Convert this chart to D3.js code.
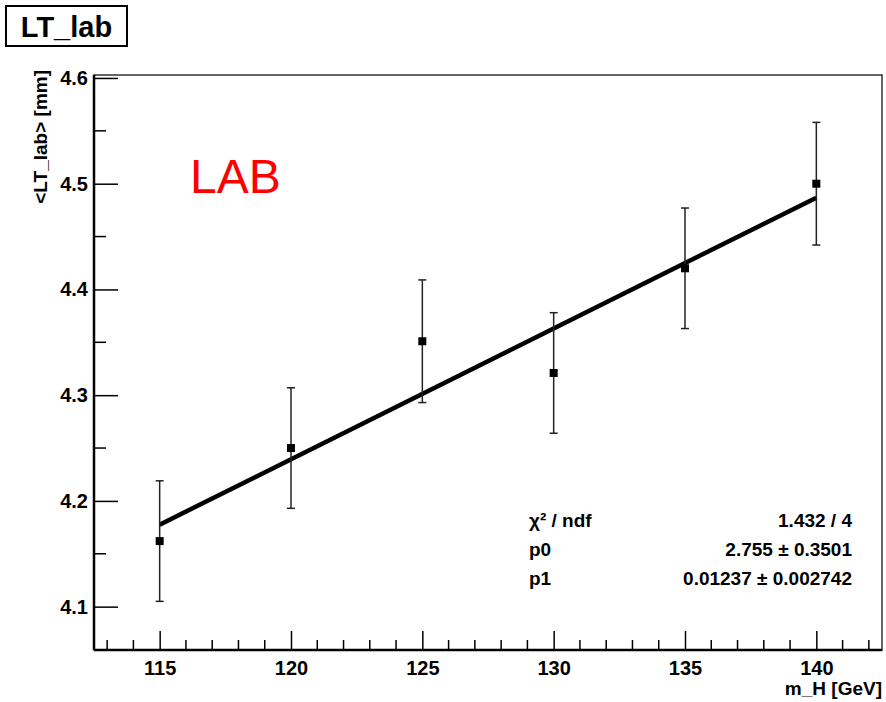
<!DOCTYPE html>
<html>
<head>
<meta charset="utf-8">
<script src="https://cdn.jsdelivr.net/npm/d3@7"></script>
<style>
  body { margin: 0; background: #fff; }
  svg { display: block; font-family: "Liberation Sans", Arial, sans-serif; }
  .tick text { font-weight: bold; }
</style>
</head>
<body>
<svg id="chart" width="886" height="702"></svg>
<script>
// measured points, one per Higgs mass
const masses = [115, 120, 125, 130, 135, 140];
const meanLT = [4.162, 4.250, 4.351, 4.321, 4.420, 4.500];
const errLT = [0.057, 0.057, 0.058, 0.057, 0.057, 0.058];

// linear fit  p0 + p1 * x
const fitP0 = 2.755;
const fitP1 = 0.01237;
const fitRange = [115, 140];

const xTicks = [115, 120, 125, 130, 135, 140];
const yTicks = [4.1, 4.2, 4.3, 4.4, 4.5, 4.6];

const statNames = ['χ² / ndf', 'p0', 'p1'];
const statValues = ['1.432 / 4', '2.755 ± 0.3501', '0.01237 ± 0.002742'];

const margin = { top: 75, right: 4, bottom: 52, left: 94 };
const W = 886, H = 702;
const iw = W - margin.left - margin.right;
const ih = H - margin.top - margin.bottom;

const svg = d3.select('#chart');

const x = d3.scaleLinear().domain([112.5, 142.5]).range([0, iw]);
const y = d3.scaleLinear().domain([4.059, 4.6028]).range([ih, 0]);

const g = svg.append('g').attr('transform', `translate(${margin.left},${margin.top})`);

// frame
g.append('rect')
  .attr('width', iw).attr('height', ih)
  .attr('fill', 'none').attr('stroke', '#333').attr('stroke-width', 1.5);

// minor ticks
const xMinor = d3.range(113, 143, 1).filter(v => !xTicks.includes(v));
g.append('g').selectAll('line').data(xMinor).join('line')
  .attr('x1', d => x(d)).attr('x2', d => x(d))
  .attr('y1', ih).attr('y2', ih - 10)
  .attr('stroke', '#000').attr('stroke-width', 1.5);

const yMinor = [4.15, 4.25, 4.35, 4.45, 4.55];
g.append('g').selectAll('line').data(yMinor).join('line')
  .attr('x1', 0).attr('x2', 12)
  .attr('y1', d => y(d)).attr('y2', d => y(d))
  .attr('stroke', '#000').attr('stroke-width', 1.5);

// axes with inward major ticks
const xAxis = g.append('g').attr('transform', `translate(0,${ih})`)
  .call(d3.axisBottom(x).tickValues(xTicks).tickSize(-19).tickPadding(11).tickFormat(d3.format('d')));
xAxis.selectAll('.tick text').attr('font-size', 20).attr('dy', '0.71em');

const yAxis = g.append('g')
  .call(d3.axisLeft(y).tickValues(yTicks).tickSize(-24).tickPadding(6).tickFormat(d3.format('.1f')));
yAxis.selectAll('.tick text').attr('font-size', 20).attr('x', -6);

[xAxis, yAxis].forEach(a => {
  a.select('.domain').attr('stroke', '#000').attr('stroke-width', 2.5);
  a.selectAll('.tick line').attr('stroke', '#000').attr('stroke-width', 1.5);
});
xAxis.select('.domain').attr('d', `M0,0H${iw}`);
yAxis.select('.domain').attr('d', `M0,0V${ih}`);

// fit line
g.append('line')
  .attr('x1', x(fitRange[0])).attr('y1', y(fitP0 + fitP1 * fitRange[0]))
  .attr('x2', x(fitRange[1])).attr('y2', y(fitP0 + fitP1 * fitRange[1]))
  .attr('stroke', '#000').attr('stroke-width', 4.5);

// error bars + markers
const pts = masses.map((m, i) => ({ m, v: meanLT[i], e: errLT[i] }));
const eb = g.append('g').selectAll('g').data(pts).join('g');
eb.append('line')
  .attr('x1', d => x(d.m)).attr('x2', d => x(d.m))
  .attr('y1', d => y(d.v + d.e)).attr('y2', d => y(d.v - d.e))
  .attr('stroke', '#222').attr('stroke-width', 1.5);
[1, -1].forEach(s => {
  eb.append('line')
    .attr('x1', d => x(d.m) - 4).attr('x2', d => x(d.m) + 4)
    .attr('y1', d => y(d.v + s * d.e)).attr('y2', d => y(d.v + s * d.e))
    .attr('stroke', '#222').attr('stroke-width', 1.5);
});
eb.append('rect')
  .attr('x', d => x(d.m) - 4).attr('y', d => y(d.v) - 4)
  .attr('width', 8).attr('height', 8).attr('fill', '#000');

// fit statistics
const stats = g.append('g').selectAll('g').data(statNames).join('g')
  .attr('transform', (d, i) => `translate(0,${452 + i * 29})`);
stats.append('text')
  .attr('x', 435).attr('font-size', 19).attr('font-weight', 'bold')
  .text(d => d);
stats.append('text')
  .attr('x', 758).attr('text-anchor', 'end').attr('font-size', 19).attr('font-weight', 'bold')
  .text((d, i) => statValues[i]);

// LAB tag
svg.append('text')
  .attr('x', 190).attr('y', 193)
  .attr('font-size', 48).attr('fill', '#ff0000')
  .text('LAB');

// axis titles
svg.append('text')
  .attr('x', 882).attr('y', 695).attr('text-anchor', 'end')
  .attr('font-size', 19).attr('font-weight', 'bold')
  .text('m_H [GeV]');

svg.append('text')
  .attr('transform', 'translate(47,70) rotate(-90)')
  .attr('text-anchor', 'end')
  .attr('font-size', 19).attr('font-weight', 'bold')
  .text('<LT_lab> [mm]');

// title box
svg.append('rect')
  .attr('x', 6).attr('y', 6).attr('width', 121).attr('height', 40)
  .attr('fill', '#fff').attr('stroke', '#000').attr('stroke-width', 2);
svg.append('text')
  .attr('x', 66.5).attr('y', 37).attr('text-anchor', 'middle')
  .attr('font-size', 29).attr('font-weight', 'bold')
  .text('LT_lab');
</script>
</body>
</html>
